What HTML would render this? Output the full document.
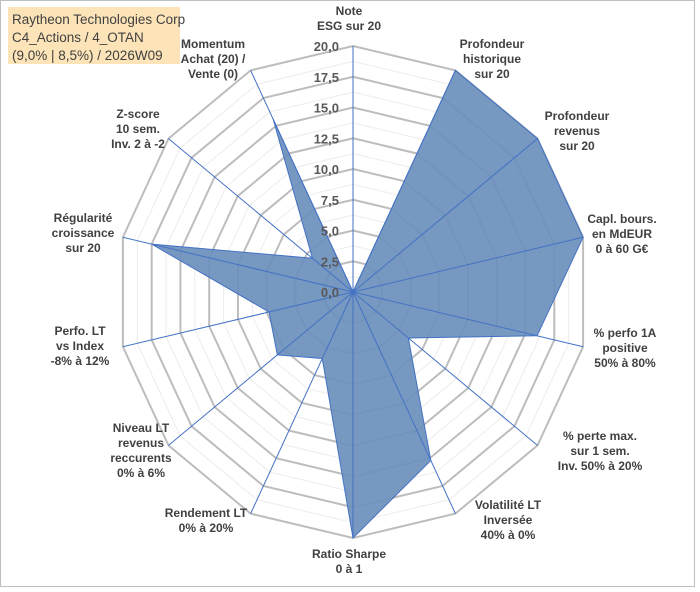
<!DOCTYPE html>
<html><head><meta charset="utf-8"><style>
body{margin:0;background:#fff;font-family:"Liberation Sans",sans-serif}
#wrap{position:relative;width:700px;height:587px}
.lbl{font:bold 12px "Liberation Sans",sans-serif;fill:#404040}
.tick{font:bold 13px "Liberation Sans",sans-serif;fill:#595959}
</style></head><body>
<div id="wrap">
<svg id="chart" width="700" height="587">
<rect x="0.5" y="0.5" width="694" height="586" fill="#fff" stroke="#bfbfbf"/>
<rect x="8" y="7" width="172" height="57" fill="#fce4b8"/>
<text x="12" y="24" font-family="Liberation Sans,sans-serif" font-size="13.5" fill="#404040">Raytheon Technologies Corp</text>
<text x="12" y="42" font-family="Liberation Sans,sans-serif" font-size="13.5" fill="#404040">C4_Actions / 4_OTAN</text>
<text x="12" y="60" font-family="Liberation Sans,sans-serif" font-size="13.5" fill="#404040">(9,0% | 8,5%) / 2026W09</text>
</svg>
</div>
<script>
const categories=[["Note","ESG sur 20"],["Profondeur","historique","sur 20"],["Profondeur","revenus","sur 20"],["Capl. bours.","en MdEUR","0 à 60 G€"],["% perfo 1A","positive","50% à 80%"],["% perte max.","sur 1 sem.","Inv. 50% à 20%"],["Volatilité LT","Inversée","40% à 0%"],["Ratio Sharpe","0 à 1"],["Rendement LT","0% à 20%"],["Niveau LT","revenus","reccurents","0% à 6%"],["Perfo. LT","vs Index","-8% à 12%"],["Régularité","croissance","sur 20"],["Z-score","10 sem.","Inv. 2 à -2"],["Momentum","Achat (20) /","Vente (0)"]];
const values=[0,20,20,20,16,6.0,15.2,20,6,8.2,7.3,17.5,4.4,15.6];
const tickLabels=["0,0","2,5","5,0","7,5","10,0","12,5","15,0","17,5","20,0"];
const maxVal=20;
const labelPos=[[349,15],[492,48],[577,120],[622,223],[625,337],[600,440],[508,509],[349,558],[206,517],[141,432],[80,335],[83,222],[138,118],[213,48]];

const svg=document.getElementById('chart');
const NS='http://www.w3.org/2000/svg';
const cx=353,cy=292,RX=236,RY=246,N=categories.length;
function ang(i){return -Math.PI/2+i*2*Math.PI/N;}
function pt(i,v){const r=v/maxVal;return [cx+r*RX*Math.cos(ang(i)),cy+r*RY*Math.sin(ang(i))];}
function mk(t,a){const e=document.createElementNS(NS,t);for(const k in a)e.setAttribute(k,a[k]);svg.appendChild(e);return e;}
for(let k=1;k<=16;k++){
  const v=k*1.25;const pts=[];for(let i=0;i<N;i++)pts.push(pt(i,v).join(','));
  const g=mk('polygon',{points:pts.join(' '),fill:'none',stroke:k%2?'#ececec':'#bdbdbd','stroke-width':k%2?1:2});
  
  
}
const sp=values.map((v,i)=>pt(i,v).join(',')).join(' ');
const poly=mk('polygon',{points:sp,fill:'#6a8fbc','fill-opacity':'0.92',stroke:'#4472c4','stroke-width':1});


for(let i=0;i<N;i++){const p=pt(i,maxVal);
  const l=mk('line',{x1:cx,y1:cy,x2:p[0],y2:p[1],stroke:'#4472c4','stroke-width':1});
  
  
}
tickLabels.forEach((t,k)=>{const v=k*2.5;const y=cy-v/maxVal*RY+5;
  const e=mk('text',{x:cx-14,y:y,'text-anchor':'end',class:'tick'});e.textContent=t;
  
  
});
categories.forEach((c,i)=>{const [x,y]=labelPos[i];
  const e=mk('text',{x:x,y:y,'text-anchor':'middle',class:'lbl'});
  
  
  c.forEach((ln,j)=>{const ts=document.createElementNS(NS,'tspan');ts.setAttribute('x',x);ts.setAttribute('dy',j?15:0);ts.textContent=ln;e.appendChild(ts);});
});
</script>
</body></html>
